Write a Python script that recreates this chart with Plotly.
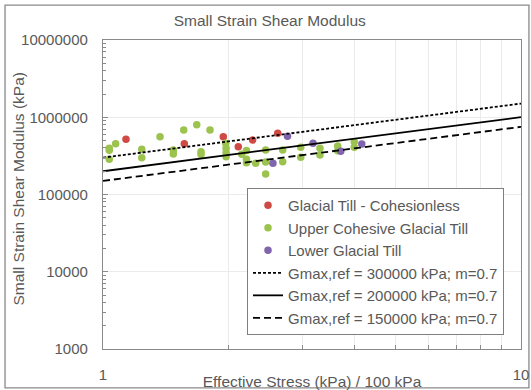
import plotly.graph_objects as go

# ---- data ----
till_x = [1.135, 1.565, 1.94, 2.107, 2.281, 2.618]
till_y = [518000, 455000, 560000, 416000, 507000, 620000]

upper_x = [1.035, 1.035, 1.035, 1.072, 1.238, 1.238, 1.369, 1.473, 1.473, 1.56,
           1.676, 1.803, 1.716, 1.716, 1.966, 1.97, 1.97, 1.97, 2.147, 2.204,
           2.204, 2.204, 2.319, 2.45, 2.45, 2.45, 2.691, 2.691, 2.972, 2.972,
           3.304, 3.304, 3.643, 3.643, 3.99, 3.99]
upper_y = [396000, 375000, 286000, 455000, 385000, 300000, 560000, 377000, 334000, 684000,
           801000, 684000, 358000, 330000, 460000, 396000, 348000, 309000, 331000, 371000,
           286000, 258000, 253000, 377000, 263000, 184000, 377000, 266000, 408000, 303000,
           396000, 325000, 424000, 369000, 483000, 408000]

lower_x = [2.55, 2.763, 3.18, 3.705, 4.16]
lower_y = [253000, 568000, 460000, 362000, 450000]

gref_values = [300000, 200000, 150000]
gref_dash = ["3px,2px", "solid", "7px,4px"]
m_exp = 0.7
stress_range = [1, 10]

y_major = [1000, 10000, 100000, 1000000, 10000000]
y_major_text = ["1000", "10000", "100000", "1000000", "10000000"]
x_ticks = [1, 2, 3, 4, 5, 6, 7, 8, 9, 10]
x_tick_text = ["1", "", "", "", "", "", "", "", "", "10"]

y_title = "Small Strain Shear Modulus (kPa)"

FONT = "Liberation Sans, Arial, sans-serif"
GREY = "#595959"

fig = go.Figure()

fig.add_trace(go.Scatter(x=till_x, y=till_y, mode="markers", name="Glacial Till - Cohesionless",
                         marker=dict(color="#CF4A45", size=7.5)))
fig.add_trace(go.Scatter(x=upper_x, y=upper_y, mode="markers", name="Upper Cohesive Glacial Till",
                         marker=dict(color="#9BC34E", size=7.5)))
fig.add_trace(go.Scatter(x=lower_x, y=lower_y, mode="markers", name="Lower Glacial Till",
                         marker=dict(color="#8064AC", size=7.5)))

for g, d in zip(gref_values, gref_dash):
    ys = [g * (s ** m_exp) for s in stress_range]
    fig.add_trace(go.Scatter(x=stress_range, y=ys, mode="lines",
                             name=f"Gmax,ref = {g} kPa; m={m_exp}",
                             line=dict(color="black", width=1.8, dash=d)))

minor_y = []
for dec in [1000, 10000, 100000, 1000000]:
    for k in range(2, 10):
        minor_y.append(dec * k)

fig.update_layout(
    width=531, height=390,
    margin=dict(l=103, r=10, t=40, b=41, autoexpand=False),
    paper_bgcolor="white", plot_bgcolor="white",
    font=dict(family=FONT, color=GREY, size=15),
    title=dict(text="Small Strain Shear Modulus", x=0.508, xref="container",
               y=0.947, yref="container", xanchor="center", yanchor="middle",
               automargin=False,
               font=dict(size=15.5, color=GREY, family=FONT)),
    showlegend=True,
    legend=dict(x=0.3445, y=0.045, xanchor="left", yanchor="bottom",
                bgcolor="white", bordercolor="#7f7f7f", borderwidth=1,
                font=dict(size=15, color=GREY, family=FONT)),
    xaxis=dict(type="log", range=[0, 1], tickvals=x_ticks, ticktext=x_tick_text,
               automargin=False,
               showgrid=True, gridcolor="#EBEBEB", gridwidth=1,
               showline=True, mirror=True, linecolor="#8a8a8a", linewidth=1.3,
               ticks="inside", ticklen=4, tickcolor="#8a8a8a",
               ticklabelstandoff=12,
               tickfont=dict(size=15, color=GREY),
               title=dict(text="Effective Stress (kPa) / 100 kPa", standoff=1,
                          font=dict(size=15.5, color=GREY)),
               zeroline=False),
    yaxis=dict(type="log", range=[3, 7], tickvals=y_major, ticktext=y_major_text,
               automargin=False,
               showgrid=True, gridcolor="#EBEBEB", gridwidth=1,
               showline=True, mirror=True, linecolor="#8a8a8a", linewidth=1.3,
               ticks="inside", ticklen=5, tickcolor="#8a8a8a",
               ticklabelstandoff=11,
               minor=dict(tickvals=minor_y, ticks="inside", ticklen=3,
                          tickcolor="#8a8a8a", showgrid=False),
               tickfont=dict(size=15, color=GREY),
               zeroline=False),
    annotations=[dict(text=y_title, xref="paper", yref="paper",
                      x=-0.202, y=0.518, xanchor="center", yanchor="middle",
                      textangle=-90, showarrow=False,
                      font=dict(size=15.5, color=GREY, family=FONT))],
    shapes=[dict(type="rect", xref="paper", yref="paper",
                 x0=-0.2344, x1=1.019, y0=-0.126, y1=1.113,
                 line=dict(color="#8a8a8a", width=1.3), fillcolor="rgba(0,0,0,0)",
                 layer="below")],
)

fig.write_html("out.html")
